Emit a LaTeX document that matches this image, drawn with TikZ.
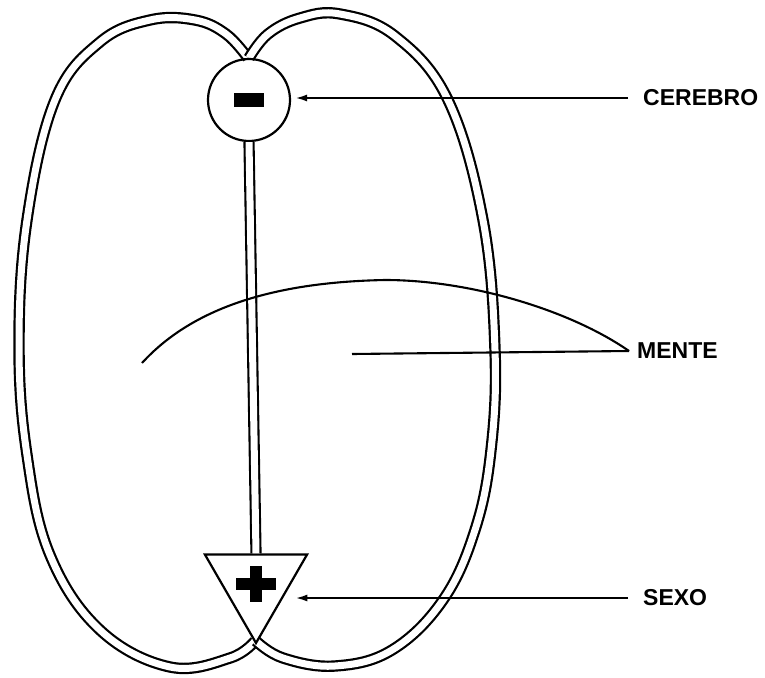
\documentclass[tikz,border=0pt]{standalone}
\usepackage{fontspec}
\setmainfont{Liberation Sans}
\usetikzlibrary{arrows.meta, shapes.geometric}

\begin{document}
\begin{tikzpicture}[
			x=1pt, y=-1pt,
			lobe/.style={double, double distance=7pt, line width=2.2pt},
			stem/.style={double, double distance=7pt, line width=2.1pt},
			pole/.style={draw, line width=2.2pt, inner sep=0pt},
			txt/.style={anchor=west, inner sep=0pt, font=\bfseries\fontsize{23}{27}\selectfont},
			arrow/.style={-{Latex[length=12pt, width=7pt]}, line width=2.1pt, shorten <=15pt, shorten >=4pt},
			thinline/.style={line width=2.1pt}
			]
			
			\useasboundingbox (0,0) rectangle (765,677);
			
			% the two lobes
			\draw[lobe] plot[smooth, tension=0.65] coordinates {(248,58) (226,34) (195,20) (150,20) (100,42) (55,100) (27,220) (19,345) (27,455) (50,555) (100,630) (170,667) (230,658) (255,641)};
			\draw[lobe] plot[smooth, tension=0.65] coordinates {(249,58) (268,34) (300,18) (340,14) (395,36) (448,100) (483,220) (495,350) (491,450) (475,530) (443,600) (392,650) (335,666) (283,658) (256,641)};
			
			\node[pole, circle, minimum size=82pt] (brain) at (249,100) {};
			\node[pole, regular polygon, regular polygon sides=3, regular polygon rotate=180, minimum size=118pt] (sexnode) at (256,584) {};
			
			\draw[stem] (brain.south) -- (sexnode.north);
			
			% signs
			\fill ([xshift=-15pt, yshift=-7pt]brain.center) rectangle ([xshift=15pt, yshift=7pt]brain.center);
			\fill ([xshift=-20pt, yshift=-6pt]sexnode.center) rectangle ([xshift=20pt, yshift=6pt]sexnode.center);
			\fill ([xshift=-6pt, yshift=-18pt]sexnode.center) rectangle ([xshift=6pt, yshift=18pt]sexnode.center);
			
			\node[txt] (lcere) at (643,98) {CEREBRO};
			\node[txt] (lmente) at (637,351) {MENTE};
			\node[txt] (lsexo) at (643,598) {SEXO};
			
			\coordinate (marc) at (142,363);
			\coordinate (mbar) at (352,354);
			
			\draw[arrow] (lcere.west) -- (lcere.west -| brain.east);
			\draw[arrow] (lsexo.west) -- (lsexo.west -| sexnode.east);
			\draw[thinline] (marc) .. controls (195,305) and (280,282) .. (385,280) .. controls (470,280) and (570,310) .. ([xshift=-8pt]lmente.west);
			\draw[thinline] (mbar) -- ([xshift=-8pt]lmente.west);
			
		\end{tikzpicture}
\end{document}
